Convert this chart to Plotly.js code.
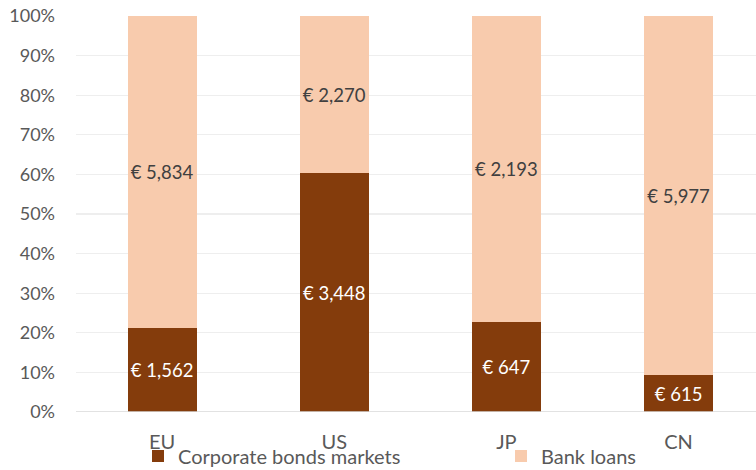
<!DOCTYPE html>
<html><head><meta charset="utf-8">
<script src="https://cdn.plot.ly/plotly-3.0.1.min.js"></script>
<style>html,body{margin:0;padding:0;background:#fff}</style>
</head><body>
<div id="chart" style="width:756px;height:470px"></div>
<script>
const categories = ["EU", "US", "JP", "CN"];
const bondsValues = [1562, 3448, 647, 615];
const loanValues = [5834, 2270, 2193, 5977];
const seriesNames = ["Corporate bonds markets", "Bank loans"];
const yTickVals = [0,10,20,30,40,50,60,70,80,90,100];
const yTickText = yTickVals.map(v => v + "%");

const fmt = v => "€ " + v.toLocaleString("en-US");
const font = "Lato, 'Open Sans', sans-serif";

const traces = [
  {type:"bar", name:seriesNames[0], x:categories, y:bondsValues, legend:"legend",
   text:bondsValues.map(fmt), textposition:"inside", insidetextanchor:"middle",
   textangle:0, constraintext:"none",
   textfont:{color:"#ffffff", size:18.5, family:font},
   marker:{color:"#843C0C"}, width:0.4, hoverinfo:"none"},
  {type:"bar", name:seriesNames[1], x:categories, y:loanValues, legend:"legend2",
   text:loanValues.map(fmt), textposition:"inside", insidetextanchor:"middle",
   textangle:0, constraintext:"none",
   textfont:{color:"#404040", size:18.5, family:font},
   marker:{color:"#F8CBAD"}, width:0.4, hoverinfo:"none"}
];

const legendCommon = {orientation:"h", xref:"container", yref:"container",
  xanchor:"left", y:(470-456)/470, yanchor:"middle", bgcolor:"rgba(0,0,0,0)",
  font:{size:20, color:"#595959"}, itemwidth:30, itemclick:false};

const layout = {
  width:756, height:470,
  barmode:"stack", barnorm:"percent",
  margin:{l:76, r:0, t:16, b:58, autoexpand:false},
  paper_bgcolor:"#fff", plot_bgcolor:"#fff",
  font:{family:font, color:"#595959", size:18},
  xaxis:{range:[-0.5,3.45], showgrid:false, zeroline:false, showline:false,
         ticks:"", ticklabelstandoff:16, tickfont:{size:20, color:"#595959"}},
  yaxis:{range:[0,100], tickvals:yTickVals, ticktext:yTickText,
         showgrid:true, gridcolor:"#eeeeee", gridwidth:1.3, zeroline:false,
         showline:false, ticks:"", ticklabelstandoff:20,
         tickfont:{size:18, color:"#595959"}},
  shapes:[{type:"line", xref:"paper", yref:"y", x0:0, x1:1, y0:0, y1:0,
           line:{color:"#d9d9d9", width:1.5}}],
  showlegend:true,
  legend:Object.assign({}, legendCommon, {x:138/756}),
  legend2:Object.assign({}, legendCommon, {x:501/756})
};

Plotly.newPlot("chart", traces, layout, {displayModeBar:false, staticPlot:true});
</script>
</body></html>
